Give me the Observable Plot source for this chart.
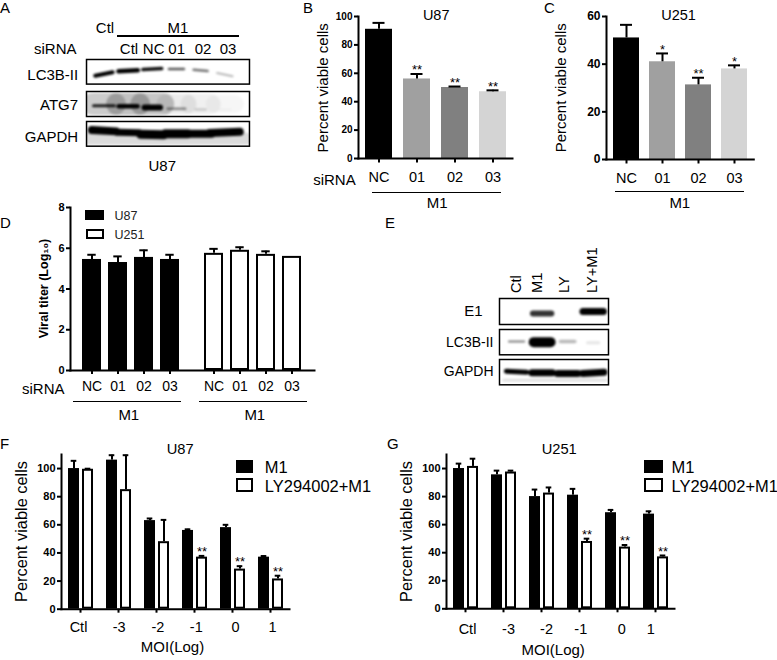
<!DOCTYPE html>
<html><head><meta charset="utf-8">
<script src="https://cdn.jsdelivr.net/npm/d3@7"></script>
<script src="https://cdn.jsdelivr.net/npm/@observablehq/plot@0.6"></script>
<style>
html,body{margin:0;padding:0;background:#fff}
#page{position:relative;width:777px;height:660px;overflow:hidden;background:#fff;font-family:"Liberation Sans",Arial,sans-serif;color:#000}
#page svg{position:absolute;overflow:visible;background:transparent}
.t{position:absolute;line-height:1;white-space:nowrap}
.r{position:absolute}
</style></head><body><div id="page"></div>
<script>
// ---------- data ----------
const sirna = ["NC","01","02","03"];
const shades = ["#000000","#a0a0a0","#808080","#d4d4d4"];
const bValues = [91,56,50,47];
const bTops = [95.5,59.5,50.7,48];
const bStars = ["","**","**","**"];
const cValues = [51,41,31.3,38];
const cTops = [56.5,44.5,34.3,39.5];
const cStars = ["","*","**","*"];
const cells = ["U87","U251"];
const dU87 = [5.45,5.3,5.55,5.45];
const dU87Tops = [5.68,5.6,5.9,5.68];
const dU251 = [5.75,5.9,5.7,5.6];
const dU251Tops = [5.97,6.05,5.85,5.6];
const moi = ["Ctl","-3","-2","-1","0","1"];
const treat = ["M1","LY294002+M1"];
const fM1 = [100,106,63,56,58,37];
const fM1Tops = [105.5,109.5,64.5,56.8,60,37.8];
const fLY = [99.5,85,48,37,28.5,21.5];
const fLYTops = [99.9,109.5,63.5,37.9,30.6,23.8];
const fLYStars = ["","","","**","**","**"];
const fNudge = [-2,0.6,1.4,1.8,3,2];
const gM1 = [100,95.5,80,81,68.5,67.5];
const gM1Tops = [103.5,98.5,85,85.5,70.5,69.5];
const gLY = [101.5,97.5,82.5,48,44,37];
const gLYTops = [107,98.5,86.5,50,45.5,38];
const gLYStars = ["","","","**","**","**"];
const gNudge = [2,5,5,1.3,4.3,-4.7];

// blot bands: [lane, half-width in lanes, y left, y right (0 top..1 bottom of strip), thickness, darkness]
const aLC3B = [[1,.36,.66,.52,4,1],[2,.4,.48,.44,4.5,1],[3,.39,.41,.37,3.5,.95],[4,.31,.39,.39,2.5,.65],[5,.29,.42,.47,2.5,.55],[6,.32,.55,.68,2,.28]];
const aATG7 = [[1,.45,.5,.5,22,.2],[2,.45,.5,.5,22,.24],[3,.45,.5,.5,22,.22],[4,.42,.5,.5,20,.08],[5,.42,.5,.5,20,.06],[6,.42,.5,.5,18,.035],
 [1,.43,.57,.57,3,.85],[2,.39,.59,.59,4.5,1],[3,.32,.64,.64,6,1],[4,.36,.69,.69,2.5,.42],[5,.22,.72,.72,2,.2],[6,.25,.72,.72,1.5,.05]];
const aGAPDH = [[3.5,3.4,.7,.7,12,.14],[1,.5,.34,.4,8,1],[2,.45,.44,.46,7,1],[3,.48,.52,.54,9,1],[4,.47,.5,.5,9,1],[5,.45,.5,.5,8,1],[6,.62,.47,.42,8,1]];
const eE1 = [[2,.36,.58,.58,6,.8],[4,.4,.5,.5,7,1]];
const eLC3B = [[1,.3,.47,.47,2,.5],[2,.33,.5,.5,10,1],[3,.28,.47,.47,3.5,.28],[4,.22,.52,.52,3,.1]];
const eGAPDH = [[1,.4,.46,.5,5,1],[2,.4,.52,.52,7,1],[3,.4,.55,.55,7,1],[4,.42,.55,.5,7,1],[2.5,2,.82,.82,3,.12]];

// ---------- helpers ----------
const page = document.getElementById("page");
const font = '"Liberation Sans",Arial,sans-serif';
function html(text,x,y,size,anchor=0){const d=document.createElement("div");d.className="t";d.textContent=text;
  d.style.cssText=`left:${x}px;top:${y}px;font-size:${size}px;transform:translate(${-anchor*100}%,-50%)`;page.append(d);}
function stroke(x1,x2,y,h=1){const d=document.createElement("div");d.className="r";
  d.style.cssText=`left:${x1}px;top:${y-h/2}px;width:${x2-x1}px;height:${h}px;background:#000`;page.append(d);}
function swatch(x1,y1,x2,y2,fill){const d=document.createElement("div");d.className="r";
  d.style.cssText=`left:${x1}px;top:${y1}px;width:${x2-x1}px;height:${y2-y1}px;box-sizing:border-box;background:${fill};border:2px solid #000`;page.append(d);}

function panel(f,opts,marks){
  const [l,r,t,b]=f.box, [pl,pr,pt,pb]=f.pad;
  const svg=Plot.plot({width:r-l+pl+pr,height:b-t+pt+pb,marginLeft:pl,marginRight:pr,marginTop:pt,marginBottom:pb,
    style:{position:"absolute",left:(l-pl)+"px",top:(t-pt)+"px",fontFamily:font,color:"#000",background:"transparent",overflow:"visible"},
    ...opts,marks});
  page.append(svg);
}
function note(f,text,px,py,o={}){
  return Plot.text([text],{text:d=>d,frameAnchor:"top-left",dx:px-f.box[0],dy:py-f.box[2],lineAnchor:"middle",textAnchor:"start",fontSize:15,fill:"#000",facet:"super",...o});
}
function spines(){return [Plot.frame({anchor:"left",strokeWidth:2,facet:"super"}),Plot.frame({anchor:"bottom",strokeWidth:2,facet:"super"})];}
function rowsOf(cats,vals,tops,stars,fills,extra={}){return cats.map((c,i)=>({c,value:vals[i],top:tops[i],star:stars?stars[i]:"",fill:fills?fills[i]:"#000",...extra}));}

// ---------- B, C ----------
function viability(f,yMax,ticks,tickFont,vals,tops,stars,capInset,pad){
  const rows=rowsOf(sirna,vals,tops,stars,shades);
  panel(f,{x:{domain:sirna,axis:null,...pad},y:{domain:[0,yMax],axis:null}},[
    Plot.barY(rows,{x:"c",y:"value",fill:"fill"}),
    Plot.ruleX(rows,{x:"c",y1:"value",y2:"top",strokeWidth:2}),
    Plot.tickY(rows,{x:"c",y:"top",strokeWidth:2,insetLeft:capInset,insetRight:capInset}),
    Plot.text(rows.filter(d=>d.star),{x:"c",y:"top",text:"star",fontSize:13,lineAnchor:"middle",dy:-4}),
    ...spines(),
    Plot.axisY({ticks,tickSize:4,tickPadding:2,fontWeight:"bold",fontSize:tickFont,strokeWidth:2,label:null}),
    Plot.axisX({tickSize:4.5,tickPadding:9,fontSize:14.5,strokeWidth:2,label:null}),
    ...f.notes(f)
  ]);
}
viability({box:[358,512,15.7,157.7],pad:[48,8,16,50],notes:f=>[
  note(f,"U87",435.7,15,{textAnchor:"middle",fontSize:14.5}),
  note(f,"siRNA",312.7,179),
  note(f,"M1",436.7,202,{textAnchor:"middle"}),
  note(f,"Percent viable cells",322.3,87,{rotate:-90,textAnchor:"middle"})
]},100,[0,20,40,60,80,100],10,bValues,bTops,bStars,7.5,{paddingInner:.295,paddingOuter:.154});
stroke(372,500.7,192.7);
viability({box:[606,753.3,15.7,158.7],pad:[48,8,16,50],notes:f=>[
  note(f,"U251",678,15,{textAnchor:"middle",fontSize:14.5}),
  note(f,"M1",679.3,202.3,{textAnchor:"middle"}),
  note(f,"Percent viable cells",560.7,87,{rotate:-90,textAnchor:"middle"})
]},60,[0,20,40,60],12,cValues,cTops,cStars,7,{paddingInner:.278,paddingOuter:.13});
stroke(615,744,191.7);

// ---------- D ----------
{
  const f={box:[69,314,207,370],pad:[34,8,2,50]};
  const rows=[...rowsOf(sirna,dU87,dU87Tops,null,null,{cell:"U87"}),...rowsOf(sirna,dU251,dU251Tops,null,null,{cell:"U251"})];
  panel(f,{fx:{domain:cells,padding:0,axis:null},x:{domain:sirna,axis:null,paddingInner:.263,paddingOuter:.47},y:{domain:[0,8],axis:null}},[
    Plot.barY(rows.filter(d=>d.cell==="U87"),{fx:"cell",x:"c",y:"value",fill:"#000"}),
    Plot.barY(rows.filter(d=>d.cell==="U251"),{fx:"cell",x:"c",y:"value",fill:"#fff",stroke:"#000",strokeWidth:2,inset:1}),
    Plot.ruleX(rows,{fx:"cell",x:"c",y1:"value",y2:"top",strokeWidth:2}),
    Plot.tickY(rows.filter(d=>d.top>d.value),{fx:"cell",x:"c",y:"top",strokeWidth:2,insetLeft:5.3,insetRight:5.3}),
    ...spines(),
    Plot.axisY({ticks:[0,2,4,6,8],tickSize:4,tickPadding:2,fontWeight:"bold",fontSize:11,strokeWidth:2,label:null}),
    Plot.axisX({tickSize:4,tickPadding:7,fontSize:14,strokeWidth:2,label:null}),
    note(f,"siRNA",20.5,389),
    note(f,"M1",127.3,414.3,{textAnchor:"middle"}),
    note(f,"M1",253.3,414.3,{textAnchor:"middle"}),
    note(f,"Viral titer (Log₁₀)",42.7,288,{rotate:-90,textAnchor:"middle",fontWeight:"bold",fontSize:12.5}),
    note(f,"U87",113,215,{fontSize:12.5,fill:"#222"}),
    note(f,"U251",113,234,{fontSize:12.5,fill:"#222"})
  ]);
  swatch(85.3,210,104.3,220,"#000");
  swatch(85.8,229,104.3,238.5,"#fff");
  stroke(73.3,180.7,401.7); stroke(199.3,306.7,401.7);
}

// ---------- F, G ----------
function moiPanel(f,m1,m1T,ly,lyT,stars,nudge){
  const rows=[...rowsOf(moi,m1,m1T,null,null,{t:treat[0]}),...rowsOf(moi,ly,lyT,stars,null,{t:treat[1]})];
  panel(f,{fx:{domain:moi,padding:0,axis:null},x:{domain:treat,axis:null,paddingInner:.22,paddingOuter:.43},y:{domain:[0,110],axis:null}},[
    Plot.barY(rows.filter(d=>d.t===treat[0]),{fx:"c",x:"t",y:"value",fill:"#000"}),
    Plot.barY(rows.filter(d=>d.t===treat[1]),{fx:"c",x:"t",y:"value",fill:"#fff",stroke:"#000",strokeWidth:2,inset:1}),
    Plot.ruleX(rows,{fx:"c",x:"t",y1:"value",y2:"top",strokeWidth:2}),
    Plot.tickY(rows,{fx:"c",x:"t",y:"top",strokeWidth:2,insetLeft:2.7,insetRight:2.7}),
    Plot.text(rows.filter(d=>d.star),{fx:"c",x:"t",y:"top",text:"star",fontSize:13,lineAnchor:"middle",dy:-4}),
    ...spines(),
    Plot.axisY({ticks:[0,20,40,60,80,100],tickSize:4,tickPadding:2,fontWeight:"bold",fontSize:11,strokeWidth:2,label:null}),
    Plot.axisFx({anchor:"bottom",tickSize:4,tickFormat:()=>"",strokeWidth:2,label:null}),
    ...moi.map((m,i)=>Plot.text([m],{fx:d=>d,text:d=>d,frameAnchor:"bottom",lineAnchor:"middle",dy:f.labelDy,dx:nudge[i],fontSize:14.5})),
    ...f.notes(f)
  ]);
}
moiPanel({box:[59,290.5,454,608.7],pad:[48,85,20,48],labelDy:18.3,notes:f=>[
  note(f,"U87",177.7,449,{textAnchor:"middle",fontSize:14.7}),
  note(f,"MOI(Log)",170,647,{textAnchor:"middle"}),
  note(f,"Percent viable cells",19,531,{rotate:-90,textAnchor:"middle",fontSize:16.4}),
  note(f,"M1",262.3,467,{fontSize:16.5}),
  note(f,"LY294002+M1",262.3,486,{fontSize:16.5})
]},fM1,fM1Tops,fLY,fLYTops,fLYStars,fNudge);
swatch(235.7,460,253.3,473.3,"#000");
swatch(235.7,478.3,253.3,491.7,"#fff");
moiPanel({box:[445.3,676.3,454,608.3],pad:[48,100,20,48],labelDy:20.7,notes:f=>[
  note(f,"U251",558,449,{textAnchor:"middle",fontSize:14.7}),
  note(f,"MOI(Log)",552,650,{textAnchor:"middle"}),
  note(f,"Percent viable cells",405.3,531,{rotate:-90,textAnchor:"middle",fontSize:16.4}),
  note(f,"M1",670.3,467,{fontSize:16.5}),
  note(f,"LY294002+M1",670.3,486,{fontSize:16.5})
]},gM1,gM1Tops,gLY,gLYTops,gLYStars,gNudge);
swatch(643.7,459.5,662.7,472.7,"#000");
swatch(643.7,478.3,662.7,491.7,"#fff");

// ---------- blots ----------
function blot(box,lanes,bands,notes){
  const f={box,pad:[2,2,2,2]};
  const rows=bands.map(([lane,hw,y1,y2,th,dark])=>({x1:lane-hw,x2:lane+hw,y1,y2,th,dark}));
  panel(f,{x:{domain:lanes,axis:null},y:{domain:[1,0],axis:null},opacity:{domain:[0,1],range:[0,1]}},[
    Plot.link(rows,{x1:"x1",x2:"x2",y1:"y1",y2:"y2",stroke:"#000",strokeWidth:"th",strokeOpacity:"dark",strokeLinecap:"round",imageFilter:"blur(1px)",clip:true}),
    Plot.frame({stroke:"#000",strokeWidth:1.5}),
    ...notes(f)
  ]);
}
const aLanes=[.28,7.02], eLanes=[.33,4.6];
blot([85.7,248.7,58.7,83.3],aLanes,aLC3B,f=>[note(f,"LC3B-II",77.3,74.3,{textAnchor:"end"})]);
blot([85.7,248.7,91.3,116.3],aLanes,aATG7,f=>[note(f,"ATG7",77.3,105,{textAnchor:"end"})]);
blot([85.7,248.7,121.3,146],aLanes,aGAPDH,f=>[note(f,"GAPDH",77.3,136.7,{textAnchor:"end"})]);
blot([499,608,298,324],eLanes,eE1,f=>[note(f,"E1",482,311,{textAnchor:"end"})]);
blot([499,608,328.7,354],eLanes,eLC3B,f=>[note(f,"LC3B-II",493,342,{textAnchor:"end",fontSize:14})]);
blot([499,608,358.7,384],eLanes,eGAPDH,f=>[note(f,"GAPDH",493,371,{textAnchor:"end",fontSize:14})]);

// headers around the blots
[["Ctl",105],["M1",178]].forEach(([t,x])=>html(t,x,27,15,.5));
stroke(117.3,239.3,35.7,2);
html("siRNA",34,48.3,15);
[["Ctl",129],["NC",153.7],["01",176.7],["02",203],["03",228]].forEach(([t,x])=>html(t,x,48.3,15,.5));
html("U87",162.3,165,15,.5);
[["Ctl",516],["M1",537.3],["LY",564],["LY+M1",591.7]].forEach(([t,x])=>{
  const d=document.createElement("div");d.className="t";d.textContent=t;
  d.style.cssText=`left:${x}px;top:292.7px;font-size:14.6px;transform-origin:0 0;transform:rotate(-90deg) translateY(-50%)`;page.append(d);});

// panel letters
[["A",0,7],["B",303,7],["C",544,7],["D",0,222],["E",385,222],["F",0,443],["G",387,443]].forEach(([t,x,y])=>html(t,x,y,15));
</script></body></html>
